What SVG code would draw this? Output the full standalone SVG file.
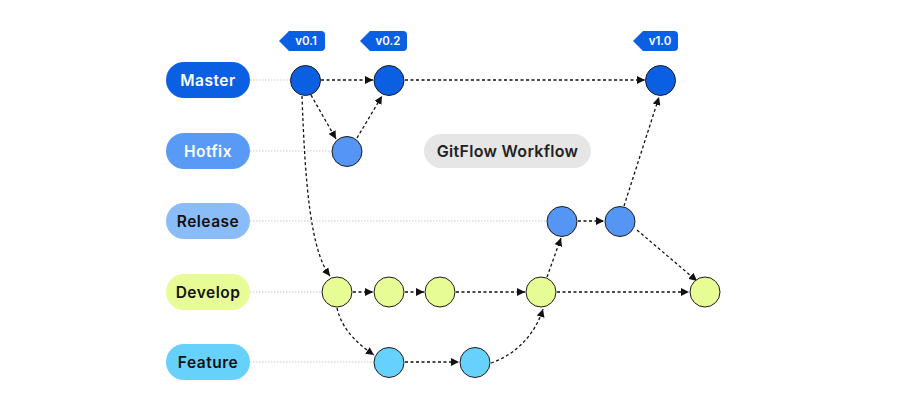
<svg xmlns="http://www.w3.org/2000/svg" width="906" height="419" viewBox="0 0 906 419">
<defs>
<marker id="ah" viewBox="0 0 8 8" refX="8" refY="4" markerWidth="8" markerHeight="8" markerUnits="userSpaceOnUse" orient="auto">
<path d="M0,0 L8,4 L0,8 z" fill="#111"/>
</marker>
</defs>
<style>
.lbl{font-family:Inter,"Noto Sans",sans-serif;font-weight:600;font-size:15.5px;letter-spacing:0.5px;text-anchor:middle;dominant-baseline:central}
.tag{font-family:Inter,"Noto Sans",sans-serif;font-weight:600;font-size:11.5px;fill:#fff;text-anchor:middle;dominant-baseline:central}
.guide{stroke:#bdbdbd;stroke-width:0.8;stroke-dasharray:1.5 1.5;fill:none}
.conn{stroke:#111;stroke-width:1.3;stroke-dasharray:3 2.5;fill:none;marker-end:url(#ah)}
.node{stroke:#1a1a1a;stroke-width:1}
.m{fill:#0b5fe3}.h{fill:#5596f5}.d{fill:#e7fc95}.f{fill:#66d1fc}
</style>
<rect width="906" height="419" fill="#fff"/>
<g id="guides">
<line class="guide" x1="250" y1="80" x2="290" y2="80"/>
<line class="guide" x1="250" y1="151" x2="332" y2="151"/>
<line class="guide" x1="250" y1="221" x2="547" y2="221"/>
<line class="guide" x1="250" y1="292" x2="322" y2="292"/>
<line class="guide" x1="250" y1="362" x2="374" y2="362"/>
</g>
<g id="lane-master"><rect x="166" y="62" width="84" height="36" rx="18" fill="#0b5fe3"/><text class="lbl" x="208" y="80" fill="#fff">Master</text></g>
<g id="lane-hotfix"><rect x="166" y="133" width="84" height="36" rx="18" fill="#5a9af7"/><text class="lbl" x="208" y="151" fill="#fff">Hotfix</text></g>
<g id="lane-release"><rect x="166" y="203" width="84" height="36" rx="18" fill="#8bbcfa"/><text class="lbl" x="208" y="221" fill="#111">Release</text></g>
<g id="lane-develop"><rect x="166" y="274" width="84" height="36" rx="18" fill="#e7fb96"/><text class="lbl" x="208" y="292" fill="#111">Develop</text></g>
<g id="lane-feature"><rect x="166" y="344" width="84" height="36" rx="18" fill="#66d1fb"/><text class="lbl" x="208" y="362" fill="#111">Feature</text></g>
<g id="title"><rect x="424" y="134" width="167" height="34" rx="17" fill="#e6e6e6"/><text class="lbl" x="507.5" y="151" fill="#222" style="font-size:16px;letter-spacing:0.3px">GitFlow Workflow</text></g>
<g id="tag-v01"><path d="M279,41 L289,31 H321 a4,4 0 0 1 4,4 V47 a4,4 0 0 1 -4,4 H289 Z" fill="#0b5fe3"/><text class="tag" x="306" y="41">v0.1</text></g>
<g id="tag-v02"><path d="M360,41 L370,31 H403 a4,4 0 0 1 4,4 V47 a4,4 0 0 1 -4,4 H370 Z" fill="#0b5fe3"/><text class="tag" x="388" y="41">v0.2</text></g>
<g id="tag-v10"><path d="M633,41 L643,31 H674 a4,4 0 0 1 4,4 V47 a4,4 0 0 1 -4,4 H643 Z" fill="#0b5fe3"/><text class="tag" x="660" y="41">v1.0</text></g>
<g id="connectors">
<line class="conn" x1="321" y1="80" x2="373" y2="80"/>
<line class="conn" x1="405" y1="80" x2="645" y2="80"/>
<line class="conn" x1="311" y1="95" x2="336" y2="139"/>
<line class="conn" x1="357" y1="138" x2="382" y2="96"/>
<path class="conn" d="M302 96 C305 180 310 250 330 276"/>
<line class="conn" x1="353" y1="292" x2="373" y2="292"/>
<line class="conn" x1="405" y1="292" x2="424" y2="292"/>
<line class="conn" x1="456" y1="292" x2="525" y2="292"/>
<line class="conn" x1="557" y1="292" x2="689" y2="292"/>
<path class="conn" d="M337 308 C342 330 358 344 374 355"/>
<line class="conn" x1="405" y1="362" x2="459" y2="362"/>
<path class="conn" d="M491 363 C515 355 535 335 543 309"/>
<line class="conn" x1="547" y1="277" x2="561" y2="238"/>
<line class="conn" x1="578" y1="221" x2="604" y2="221"/>
<line class="conn" x1="624" y1="206" x2="659" y2="97"/>
<line class="conn" x1="637" y1="230" x2="697" y2="281"/>
</g>
<g id="m1"><circle class="node m" cx="305.5" cy="80.5" r="15"/></g>
<g id="m2"><circle class="node m" cx="389" cy="80.5" r="15"/></g>
<g id="m3"><circle class="node m" cx="660.5" cy="80.5" r="15"/></g>
<g id="h1"><circle class="node h" cx="347" cy="151.5" r="15"/></g>
<g id="r1"><circle class="node h" cx="562" cy="221.5" r="15"/></g>
<g id="r2"><circle class="node h" cx="620" cy="221.5" r="15"/></g>
<g id="d1"><circle class="node d" cx="337" cy="292" r="15"/></g>
<g id="d2"><circle class="node d" cx="389" cy="292" r="15"/></g>
<g id="d3"><circle class="node d" cx="440" cy="292" r="15"/></g>
<g id="d4"><circle class="node d" cx="541" cy="292" r="15"/></g>
<g id="d5"><circle class="node d" cx="705" cy="292" r="15"/></g>
<g id="f1"><circle class="node f" cx="389" cy="362.5" r="15"/></g>
<g id="f2"><circle class="node f" cx="475" cy="362.5" r="15"/></g>
</svg>
